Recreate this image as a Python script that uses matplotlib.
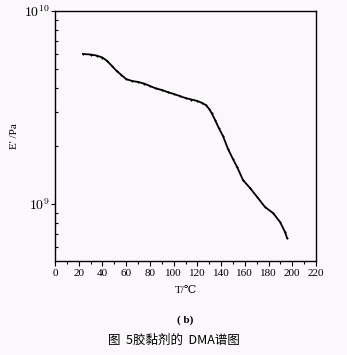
import matplotlib
matplotlib.use("Agg")
import matplotlib.pyplot as plt
import numpy as np
from matplotlib.ticker import LogLocator, MultipleLocator, NullFormatter, FixedLocator, FixedFormatter

########## Data ##########
temp = [23.6, 30, 35, 40, 44, 48, 52, 56, 60, 65, 70, 75, 80, 85, 90, 95, 100, 105,
        110, 115, 120, 124, 127, 130, 132, 135, 138, 141.6, 145.8, 150, 153.4, 158.5,
        164.4, 170.3, 177, 183.8, 189.7, 193.9, 195.6]
modulus = [5.99e9, 5.95e9, 5.88e9, 5.74e9, 5.51e9, 5.19e9, 4.89e9, 4.66e9, 4.44e9,
           4.34e9, 4.29e9, 4.21e9, 4.09e9, 3.97e9, 3.90e9, 3.80e9, 3.72e9, 3.63e9,
           3.54e9, 3.48e9, 3.42e9, 3.34e9, 3.26e9, 3.11e9, 2.96e9, 2.72e9, 2.48e9,
           2.25e9, 1.93e9, 1.71e9, 1.56e9, 1.33e9, 1.21e9, 1.09e9, 9.65e8, 8.98e8,
           8.07e8, 7.16e8, 6.66e8]
x_ticks = list(range(0, 221, 20))
y_ticks = [1e9, 1e10]
y_labels = [r"$10^{9}$", r"$10^{10}$"]
##########################

plt.rcParams['font.family'] = ['Liberation Serif', 'DejaVu Serif']
plt.rcParams['mathtext.fontset'] = 'cm'

bg = '#faf8fa'
fig = plt.figure(figsize=(3.47, 3.55), dpi=100, facecolor=bg)
ax = fig.add_axes([0.1585, 0.2648, 0.7522, 0.7042], facecolor=bg)

ax.plot(temp, modulus, color='black', linewidth=1.3, marker='+', markersize=2,
        markeredgewidth=0.8)

ax.set_yscale('log')
ax.set_xlim(0, 220)
ax.set_ylim(10 ** 8.705, 1e10)

ax.xaxis.set_major_locator(FixedLocator(x_ticks))
ax.xaxis.set_minor_locator(MultipleLocator(10))
ax.tick_params(axis='x', which='major', direction='out', length=3.5, width=0.8, labelsize=8, pad=2)
ax.tick_params(axis='x', which='minor', direction='out', length=2, width=0.8)

ax.yaxis.set_major_locator(FixedLocator(y_ticks))
ax.yaxis.set_major_formatter(FixedFormatter(y_labels))
ax.yaxis.set_minor_locator(LogLocator(base=10, subs=np.arange(2, 10)))
ax.yaxis.set_minor_formatter(NullFormatter())
ax.tick_params(axis='y', which='major', direction='out', length=3, width=0.8, labelsize=10, pad=1)
ax.tick_params(axis='y', which='minor', direction='in', length=2, width=0.8)

for s in ax.spines.values():
    s.set_linewidth(1.0)

ax.set_xlabel("T/\u2103", fontsize=8, labelpad=6)
ax.set_ylabel("E' /Pa", fontsize=8, labelpad=3)

fig.text(0.533, 0.098, "( b)", ha='center', va='center', fontsize=8, fontweight='bold')
fig.text(0.5, 0.040, "图  5胶黏剂的  DMA谱图", ha='center', va='center', fontsize=9,
         fontweight='medium', family=['Noto Sans CJK SC', 'DejaVu Sans'])

fig.savefig("out.png", dpi=100, facecolor=bg)
